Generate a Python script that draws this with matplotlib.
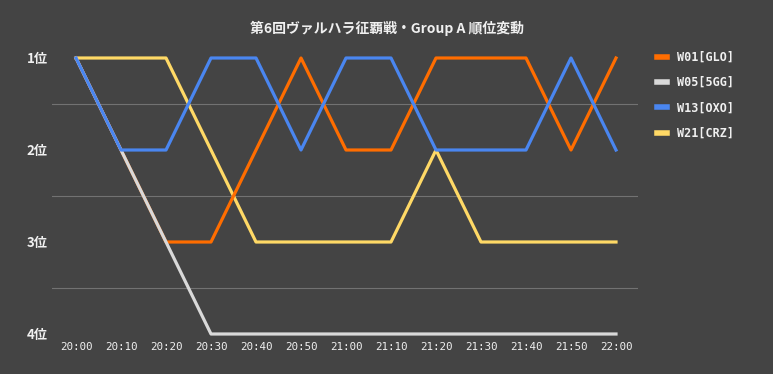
import matplotlib.pyplot as plt

# rank per 10-minute slot
times = ['20:00', '20:10', '20:20', '20:30', '20:40', '20:50', '21:00',
         '21:10', '21:20', '21:30', '21:40', '21:50', '22:00']
teams = ['W01[GLO]', 'W05[5GG]', 'W13[OXO]', 'W21[CRZ]']
w01 = [1, 2, 3, 3, 2, 1, 2, 2, 1, 1, 1, 2, 1]
w05 = [1, 2, 3, 4, 4, 4, 4, 4, 4, 4, 4, 4, 4]
w13 = [1, 2, 2, 1, 1, 2, 1, 1, 2, 2, 2, 1, 2]
w21 = [1, 1, 1, 2, 3, 3, 3, 3, 2, 3, 3, 3, 3]
rank_labels = ['1位', '2位', '3位', '4位']

colors = ['#ff6d00', '#d9d9d9', '#4a86f0', '#ffd966']
bg = '#444444'

plt.rcParams['font.family'] = ['Noto Sans CJK JP', 'DejaVu Sans']

fig = plt.figure(figsize=(7.73, 3.74), dpi=100, facecolor=bg)
ax = fig.add_axes([52 / 773, 40 / 374, 586 / 773, 276 / 374], facecolor=bg)

x = list(range(len(times)))
# bottom to top: W21, W01, W05, W13
for vals, name, c in [(w21, teams[3], colors[3]), (w01, teams[0], colors[0]),
                      (w05, teams[1], colors[1]), (w13, teams[2], colors[2])]:
    ax.plot(x, vals, color=c, lw=2.3, label=name, clip_on=False)

for y in [1.5, 2.5, 3.5]:
    ax.axhline(y, color='#727272', lw=0.8, zorder=0)

ax.set_xlim(-24 / 45, 12 + 22 / 45)
ax.set_ylim(4, 1)
ax.set_xticks(x)
ax.set_xticklabels(times, family='DejaVu Sans Mono', fontsize=7.8,
                   color='#f0f0f0')
ax.set_yticks([1, 2, 3, 4])
ax.set_yticklabels(rank_labels, fontsize=9.5, fontweight='bold',
                   color='#f0f0f0')
ax.tick_params(length=0, axis='x', pad=6)
ax.tick_params(length=0, axis='y', pad=3)
for s in ax.spines.values():
    s.set_visible(False)

handles, labels = ax.get_legend_handles_labels()
order = [labels.index(t) for t in teams]
leg = ax.legend([handles[i] for i in order], [labels[i] for i in order],
                loc='upper left', bbox_to_anchor=(1.015, 1.065), frameon=False,
                handlelength=0.8, handletextpad=0.9, labelspacing=1.05,
                prop={'family': 'DejaVu Sans Mono', 'weight': 'bold',
                      'size': 8.5})
for t in leg.get_texts():
    t.set_color('#f0f0f0')
for h in leg.get_lines():
    h.set_linewidth(4)

fig.text(0.5, 1 - 28 / 374, '第6回ヴァルハラ征覇戦・Group A 順位変動',
         ha='center', va='center', fontsize=10, fontweight='bold',
         color='#f0f0f0')

fig.savefig('out.png', dpi=100, facecolor=bg)
